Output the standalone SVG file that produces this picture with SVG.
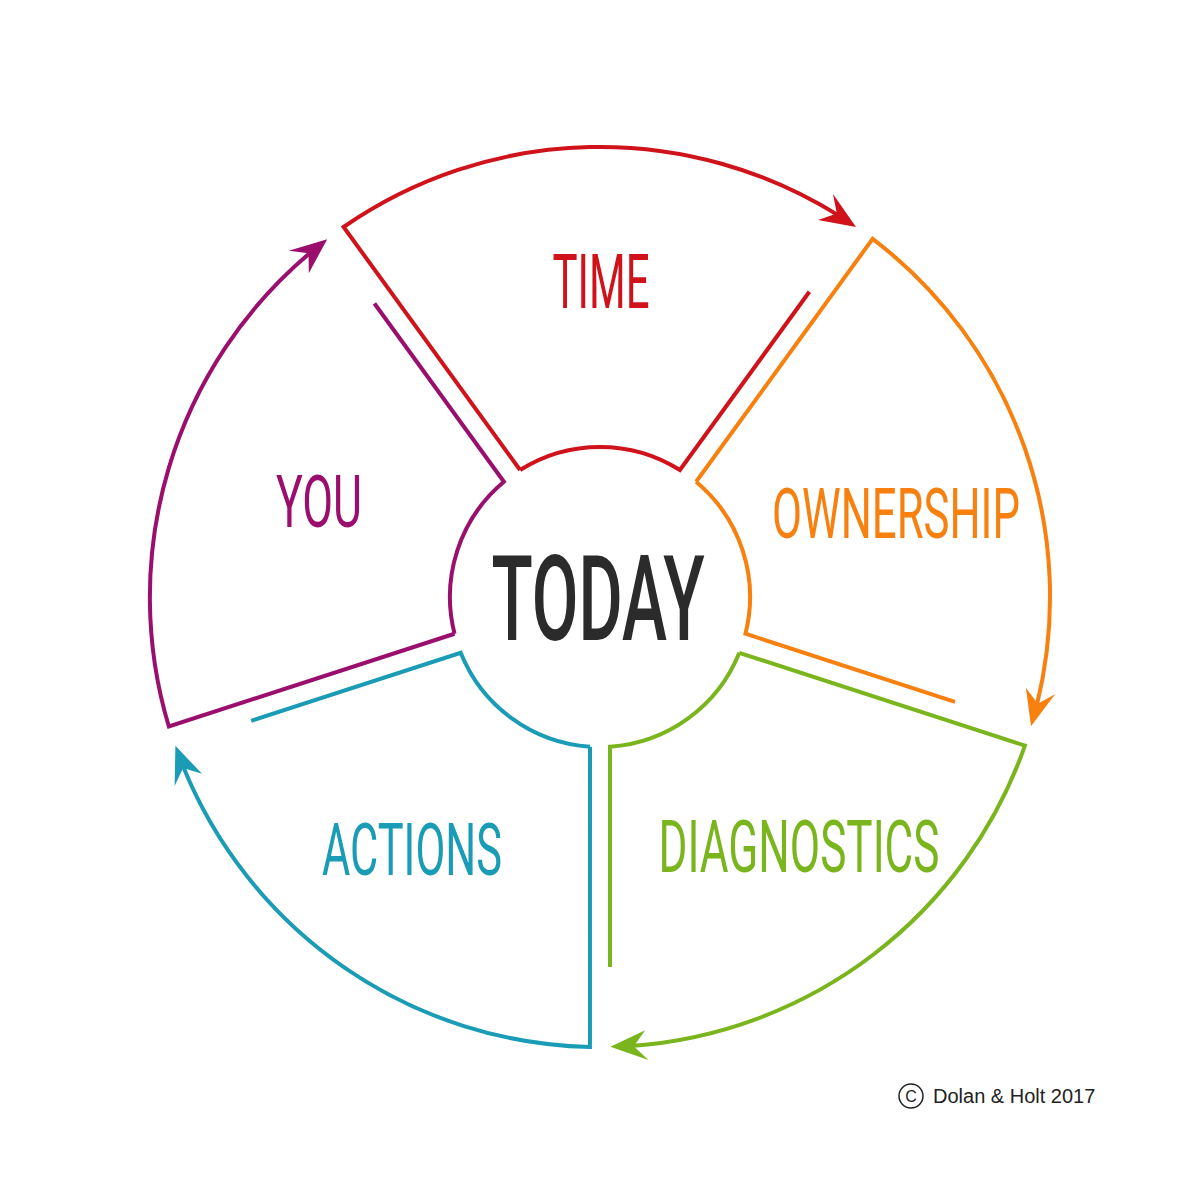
<svg xmlns="http://www.w3.org/2000/svg" width="1200" height="1200" viewBox="0 0 1200 1200">
<style>
.lbl{font-family:Roboto,"Liberation Sans",sans-serif;font-weight:400;text-anchor:middle}
</style>
<defs>
<g id="segshape">
<path fill="none" stroke-width="4" d="M520.1,470 L343.6,227 A450,450 0 0 1 838.5,215.4"/>
<path fill="none" stroke-width="4" d="M520.1,470 A150,150 0 0 1 679.9,470 L809.4,291.8"/>
<path d="M856,227 L818,220 L836.8,213.6 L833,194 Z" stroke="none"/>
</g>
</defs>
<rect width="1200" height="1200" fill="#fff"/>
<g id="time" stroke="#d0121b" fill="#d0121b"><use href="#segshape"/></g>
<g id="ownership" stroke="#f7800f" fill="#f7800f" transform="rotate(72 600 597)"><use href="#segshape"/></g>
<g id="diagnostics" stroke="#7bb51d" fill="#7bb51d" transform="rotate(144 600 597)"><use href="#segshape"/></g>
<g id="actions" stroke="#1a9bb6" fill="#1a9bb6" transform="rotate(216 600 597)"><use href="#segshape"/></g>
<g id="you" stroke="#9a0f6e" fill="#9a0f6e" transform="rotate(288 600 597)"><use href="#segshape"/></g>
<g id="labels" class="lbl">
<text x="601" y="308" font-size="76" fill="#d0121b" textLength="97" lengthAdjust="spacingAndGlyphs">TIME</text>
<text x="896" y="538" font-size="70" fill="#f7800f" textLength="248" lengthAdjust="spacingAndGlyphs">OWNERSHIP</text>
<text x="319" y="527" font-size="72" fill="#9a0f6e" textLength="86" lengthAdjust="spacingAndGlyphs">YOU</text>
<text x="598" y="640" font-size="118" fill="#2b2b2b" font-weight="500" textLength="213" lengthAdjust="spacingAndGlyphs">TODAY</text>
<text x="412" y="875" font-size="72" fill="#1a9bb6" textLength="180" lengthAdjust="spacingAndGlyphs">ACTIONS</text>
<text x="799" y="872" font-size="72" fill="#7bb51d" textLength="281" lengthAdjust="spacingAndGlyphs">DIAGNOSTICS</text>
</g>
<g id="copyright">
<circle cx="911" cy="1096" r="12" fill="none" stroke="#222" stroke-width="1.5"/>
<text x="911" y="1102" font-family="'Liberation Sans',Arial,sans-serif" font-size="16" text-anchor="middle" fill="#222">C</text>
<text x="933" y="1103" font-family="'Liberation Sans',Arial,sans-serif" font-size="20" fill="#222">Dolan &amp; Holt 2017</text>
</g>
</svg>
